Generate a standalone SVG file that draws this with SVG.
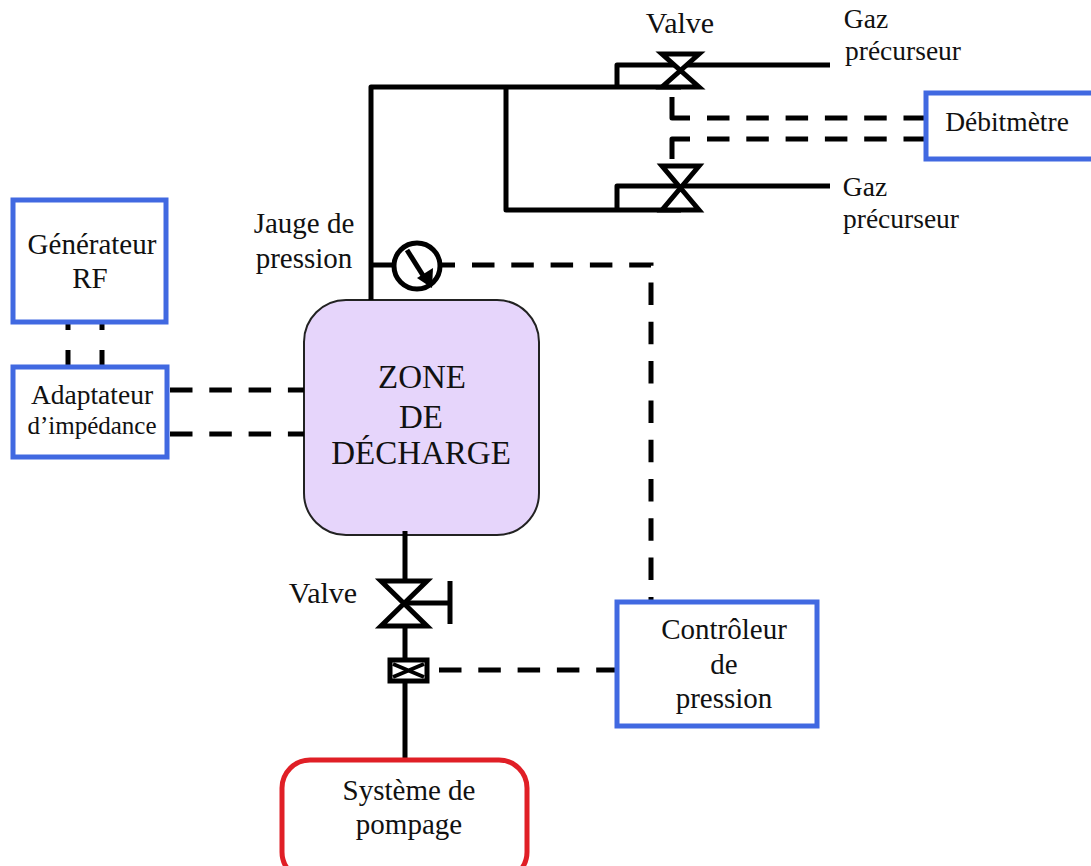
<svg xmlns="http://www.w3.org/2000/svg" width="1091" height="866" viewBox="0 0 1091 866">
<style>
text{font-family:"Liberation Serif","Times New Roman",serif;fill:#111;text-anchor:middle}
.t{font-size:29px}.a{font-size:27.5px}.i{font-size:25px}.l{font-size:33px}.w{font-size:30px}
.b{fill:#fff;stroke:#4169e1;stroke-width:5}
.p{fill:none;stroke:#000;stroke-width:5;stroke-linejoin:round}
.d{fill:none;stroke:#000;stroke-width:5;stroke-dasharray:22.5 16.8}
.g{fill:none;stroke:#000;stroke-width:5;stroke-dasharray:7 20 30 0}
.v{fill:#fff;stroke:#000;stroke-width:5;stroke-linejoin:miter}
</style>
<rect width="1091" height="866" fill="#fff"/>
<g id="zone"><rect x="304" y="300" width="235" height="235" rx="42" fill="#e6d5fb" stroke="#222" stroke-width="2"/>
<text class="l" x="422" y="388">ZONE</text><text class="l" x="421" y="428">DE</text><text class="l" x="421" y="464">DÉCHARGE</text></g>
<g id="connectors">
<path class="p" d="M371 300V87H681M506 87V210H681M617 87V65H830M617 210V186H830M372 265H398M405 531V760"/>
<path class="p" d="M438 265H455"/>
<path class="d" d="M472 265H651V601"/>
<path class="p" d="M672 97V118H690"/>
<path class="d" d="M707 118H925"/>
<path class="p" d="M672 159V139H690"/>
<path class="d" d="M707 139H925"/>
<path class="g" d="M68 323V366"/>
<path class="g" d="M102 323V366"/>
<path class="d" d="M170 390H304"/>
<path class="d" d="M170 434H304"/>
<path class="d" d="M439 670H616"/>
</g>
<g id="generateur"><rect class="b" x="13" y="200" width="153" height="122"/><text class="t" x="92" y="254">Générateur</text><text class="t" x="90" y="288">RF</text></g>
<g id="adaptateur"><rect class="b" x="13" y="367" width="154" height="90"/><text class="a" x="92" y="404">Adaptateur</text><text class="i" x="92" y="434">d’impédance</text></g>
<g id="debitmetre"><rect class="b" x="926" y="93" width="170" height="66"/><text class="a" x="1007" y="131">Débitmètre</text></g>
<g id="controleur"><rect class="b" x="617" y="602" width="200" height="124"/><text class="t" x="724" y="639">Contrôleur</text><text class="t" x="724" y="674">de</text><text class="t" x="724" y="708">pression</text></g>
<g id="pompage"><rect x="282" y="760" width="245" height="120" rx="28" fill="#fff" stroke="#e01f26" stroke-width="5"/><text class="t" x="409" y="800">Système de</text><text class="t" x="409" y="834">pompage</text></g>
<g id="valve-top"><path class="v" d="M662 54H699L662 87H699Z"/><text class="w" x="680" y="33">Valve</text></g>
<g id="valve-bottom"><path class="v" d="M662 166H699L662 210H699Z"/></g>
<g id="valve-main"><path class="v" d="M381 581H427L381 626H427Z"/><path class="p" d="M405 603H450M450 581V624"/><text class="w" x="323" y="603">Valve</text></g>
<g id="actuator"><rect class="v" x="390" y="660" width="37" height="21" stroke-width="6"/><path d="M393 664L424 677M424 664L393 677" stroke="#000" stroke-width="4"/></g>
<g id="jauge"><circle cx="417" cy="266" r="23" fill="#fff" stroke="#000" stroke-width="5"/><path class="p" d="M407 250L424 277"/><path d="M417 278L433 268L432 288Z" fill="#000"/><text class="t" x="304" y="233">Jauge de</text><text class="t" x="304" y="268">pression</text></g>
<g id="gaz-1"><text class="a" x="866" y="28">Gaz</text><text class="a" x="903" y="60">précurseur</text></g>
<g id="gaz-2"><text class="a" x="865" y="196">Gaz</text><text class="a" x="901" y="228">précurseur</text></g>
</svg>
